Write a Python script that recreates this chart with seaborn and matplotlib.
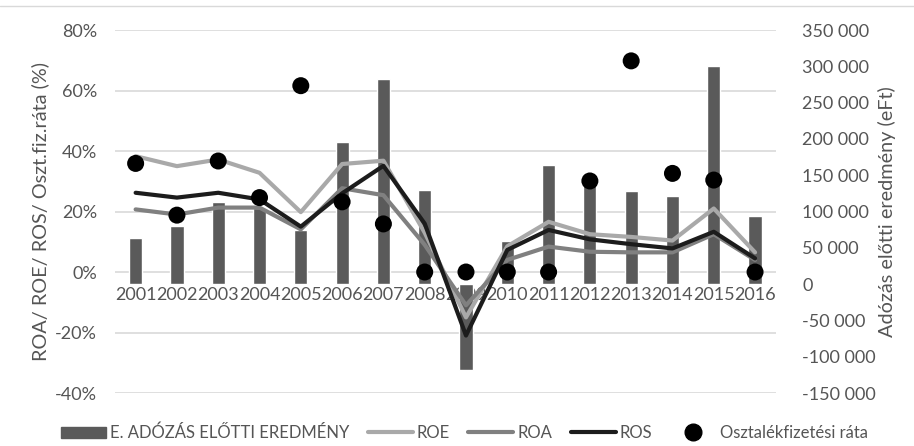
import numpy as np
import pandas as pd
import seaborn as sns
import matplotlib.pyplot as plt
from matplotlib.lines import Line2D
from matplotlib.patches import Patch
from matplotlib.ticker import FuncFormatter, FixedLocator

# data
years = [str(y) for y in range(2001, 2017)]
profit = [63000, 80000, 113000, 105000, 75000, 196000, 283000, 130000,
          -118000, 60000, 164000, 140000, 128000, 122000, 301000, 94000]
roe = [38.3, 35.0, 37.2, 32.8, 19.8, 35.7, 36.8, 13.0,
       -15.0, 8.5, 16.6, 12.5, 11.6, 10.4, 21.0, 6.5]
roa = [20.7, 19.0, 21.3, 21.3, 14.1, 27.7, 25.4, 9.0,
       -11.0, 4.0, 8.4, 6.7, 6.5, 6.5, 12.5, 4.0]
ros = [26.2, 24.6, 26.2, 24.0, 15.0, 26.0, 35.1, 16.0,
       -21.0, 7.3, 13.9, 10.8, 9.2, 7.8, 13.3, 4.5]
payout = [35.9, 18.8, 36.7, 24.6, 61.6, 23.2, 15.9, 0,
          0, 0, 0, 30.1, 69.8, 32.6, 30.4, 0]

left_ticks = [-40, -20, 0, 20, 40, 60, 80]
right_ticks = [-150000, -100000, -50000, 0, 50000, 100000, 150000,
               200000, 250000, 300000, 350000]

df = pd.DataFrame({"year": years, "profit": profit, "ROE": roe,
                   "ROA": roa, "ROS": ros, "payout": payout})
df["pos"] = np.arange(len(df))

sns.set_theme(style="white")
plt.rcParams["font.family"] = ["Lato", "DejaVu Sans"]
txt = "#555555"
c_bar = "#5a5a5a"
c_roe = "#a9a9a9"
c_roa = "#808080"
c_ros = "#1c1c1c"
fs = 13

fig = plt.figure(figsize=(9.14, 4.46), dpi=100)
ax = fig.add_axes([0.1258, 0.1188, 0.7229, 0.8139])
ax2 = ax.twinx()
ax3 = fig.add_axes(ax.get_position(), sharex=ax, sharey=ax)

# bars on the secondary axis
sns.barplot(data=df, x="year", y="profit", color=c_bar, width=0.32,
            saturation=1, ax=ax2, legend=False)
ax2.set_ylim(-150000, 350000)
ax2.yaxis.set_major_locator(FixedLocator(right_ticks))
ax2.yaxis.set_major_formatter(FuncFormatter(
    lambda v, p: "{:,.0f}".format(v).replace(",", " ")))
ax2.tick_params(axis="y", length=0, pad=19, labelsize=fs, labelcolor=txt)
ax2.set_ylabel("Adózás előtti eredmény (eFt)", fontsize=14.3, color=txt,
               rotation=90)
ax2.yaxis.set_label_coords(1.155, 0.5)
for s in ax2.spines.values():
    s.set_visible(False)

# lines + dots on top
sns.lineplot(data=df, x="pos", y="ROE", color=c_roe, linewidth=3, ax=ax3)
sns.lineplot(data=df, x="pos", y="ROA", color=c_roa, linewidth=3, ax=ax3)
sns.lineplot(data=df, x="pos", y="ROS", color=c_ros, linewidth=3, ax=ax3)
sns.scatterplot(data=df, x="pos", y="payout", color="black", s=150,
                edgecolor="none", ax=ax3, zorder=5)
ax3.axis("off")

# primary axis: grid, percent ticks, year labels
ax.set_ylim(-40, 80)
ax.set_xlim(-0.5, len(years) - 0.5)
ax.set_yticks(left_ticks)
ax.set_yticklabels([f"{t}%" for t in left_ticks])
ax.set_xticks(df["pos"])
ax.set_xticklabels(years)
ax.grid(axis="y", color="#d9d9d9", linewidth=1.2)
ax.grid(axis="x", visible=False)
ax.set_axisbelow(True)
for s in ax.spines.values():
    s.set_visible(False)
ax.spines["bottom"].set_position(("data", 0))
ax.tick_params(axis="y", length=0, pad=13, labelsize=fs, labelcolor=txt)
ax.tick_params(axis="x", length=0, pad=11, labelsize=fs, labelcolor=txt)
ax.set_xlabel("")
ax.set_ylabel("ROA/ ROE/ ROS/ Oszt.fiz.ráta (%)", fontsize=14.3, color=txt)
ax.yaxis.set_label_coords(-0.099, 0.5)

# thin frame line on top
fig.add_artist(Line2D([0, 1], [0.987, 0.987], transform=fig.transFigure,
                      color="#d9d9d9", linewidth=1))

handles = [Patch(color=c_bar),
           Line2D([], [], color=c_roe, linewidth=3),
           Line2D([], [], color=c_roa, linewidth=3),
           Line2D([], [], color=c_ros, linewidth=3),
           Line2D([], [], color="black", linestyle="", marker="o",
                  markersize=12)]
labels = ["E. ADÓZÁS ELŐTTI EREDMÉNY", "ROE", "ROA", "ROS",
          "Osztalékfizetési ráta"]
leg = fig.legend(handles, labels, loc="center", bbox_to_anchor=(0.508, 0.029),
                 ncol=5, frameon=False, handlelength=2.7, handletextpad=0.25,
                 columnspacing=1.1, fontsize=12)
for t in leg.get_texts():
    t.set_color(txt)

fig.savefig("out.png", dpi=100)
